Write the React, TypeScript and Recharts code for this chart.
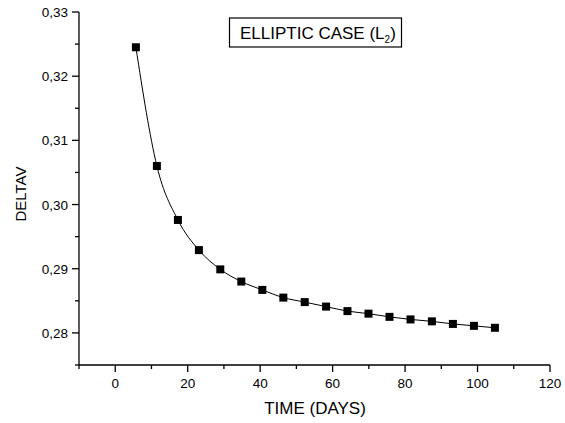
import { LineChart, Line, XAxis, YAxis } from "recharts";

const days = [5.7, 11.5, 17.3, 23.1, 29.0, 34.8, 40.6, 46.4, 52.3, 58.2, 64.1, 69.9, 75.7, 81.5, 87.4, 93.2, 99.0, 104.8];
const deltaV = [0.3245, 0.306, 0.2976, 0.2929, 0.2899, 0.288, 0.2867, 0.2855, 0.2848, 0.2841, 0.2834, 0.283, 0.2825, 0.2821, 0.2818, 0.2814, 0.2811, 0.2808];

const xTicks = [-10, 0, 10, 20, 30, 40, 50, 60, 70, 80, 90, 100, 110, 120];
const yTicks = [0.275, 0.28, 0.285, 0.29, 0.295, 0.3, 0.305, 0.31, 0.315, 0.32, 0.325, 0.33];

const font = "'Liberation Sans', Arial, sans-serif";

const data = days.map((d, i) => ({ day: d, dv: deltaV[i] }));

function XTick(props: any) {
  const { x, y, payload } = props;
  const major = payload.value % 20 === 0;
  return (
    <g>
      <line x1={x} x2={x} y1={y} y2={y + (major ? 7 : 4)} stroke="#000" strokeWidth={1.3} />
      {major && (
        <text x={x} y={y + 23} textAnchor="middle" fontSize={13.5} fontFamily={font} fill="#000">
          {payload.value}
        </text>
      )}
    </g>
  );
}

function YTick(props: any) {
  const { x, y, payload } = props;
  const major = Math.round(payload.value * 1000) % 10 === 0;
  return (
    <g>
      <line x1={x - (major ? 7 : 4)} x2={x} y1={y} y2={y} stroke="#000" strokeWidth={1.3} />
      {major && (
        <text x={x - 11} y={y + 5} textAnchor="end" fontSize={13.5} fontFamily={font} fill="#000">
          {payload.value.toFixed(2).replace(".", ",")}
        </text>
      )}
    </g>
  );
}

function Square(props: any) {
  const { cx, cy } = props;
  return <rect x={cx - 4} y={cy - 4} width={8} height={8} fill="#000" />;
}

export default function App() {
  return (
    <div style={{ position: "absolute", left: 0, top: 0, width: 565, height: 423, background: "#fff" }}>
      <LineChart width={565} height={423} data={data} margin={{ top: 12, right: 15, bottom: 0, left: 0 }}>
        <XAxis
          dataKey="day"
          type="number"
          domain={[-10, 120]}
          ticks={xTicks}
          height={58}
          tickLine={false}
          tickSize={0}
          tickMargin={0}
          tick={<XTick />}
          axisLine={{ stroke: "#000", strokeWidth: 1.3 }}
          allowDataOverflow
        />
        <YAxis
          type="number"
          domain={[0.275, 0.33]}
          ticks={yTicks}
          width={79}
          tickLine={false}
          tickSize={0}
          tickMargin={0}
          tick={<YTick />}
          axisLine={{ stroke: "#000", strokeWidth: 1.3 }}
          allowDataOverflow
        />
        <Line
          dataKey="dv"
          type="monotone"
          stroke="#000"
          strokeWidth={1}
          dot={<Square />}
          activeDot={false}
          isAnimationActive={false}
        />
      </LineChart>
      <svg width={565} height={423} style={{ position: "absolute", left: 0, top: 0, pointerEvents: "none" }}>
        <rect x={229.5} y={18} width={172} height={29} fill="#fff" stroke="#000" strokeWidth={1.2} />
        <text x={240} y={38.5} fontSize={17} fontFamily={font} fill="#000">
          ELLIPTIC CASE (L
          <tspan fontSize={10} dy={4}>2</tspan>
          <tspan dy={-4}>)</tspan>
        </text>
        <text x={315} y={414} textAnchor="middle" fontSize={17} fontFamily={font} fill="#000">
          TIME (DAYS)
        </text>
        <text
          x={26}
          y={194}
          textAnchor="middle"
          fontSize={15}
          fontFamily={font}
          fill="#000"
          transform="rotate(-90 26 194)"
        >
          DELTAV
        </text>
      </svg>
    </div>
  );
}
